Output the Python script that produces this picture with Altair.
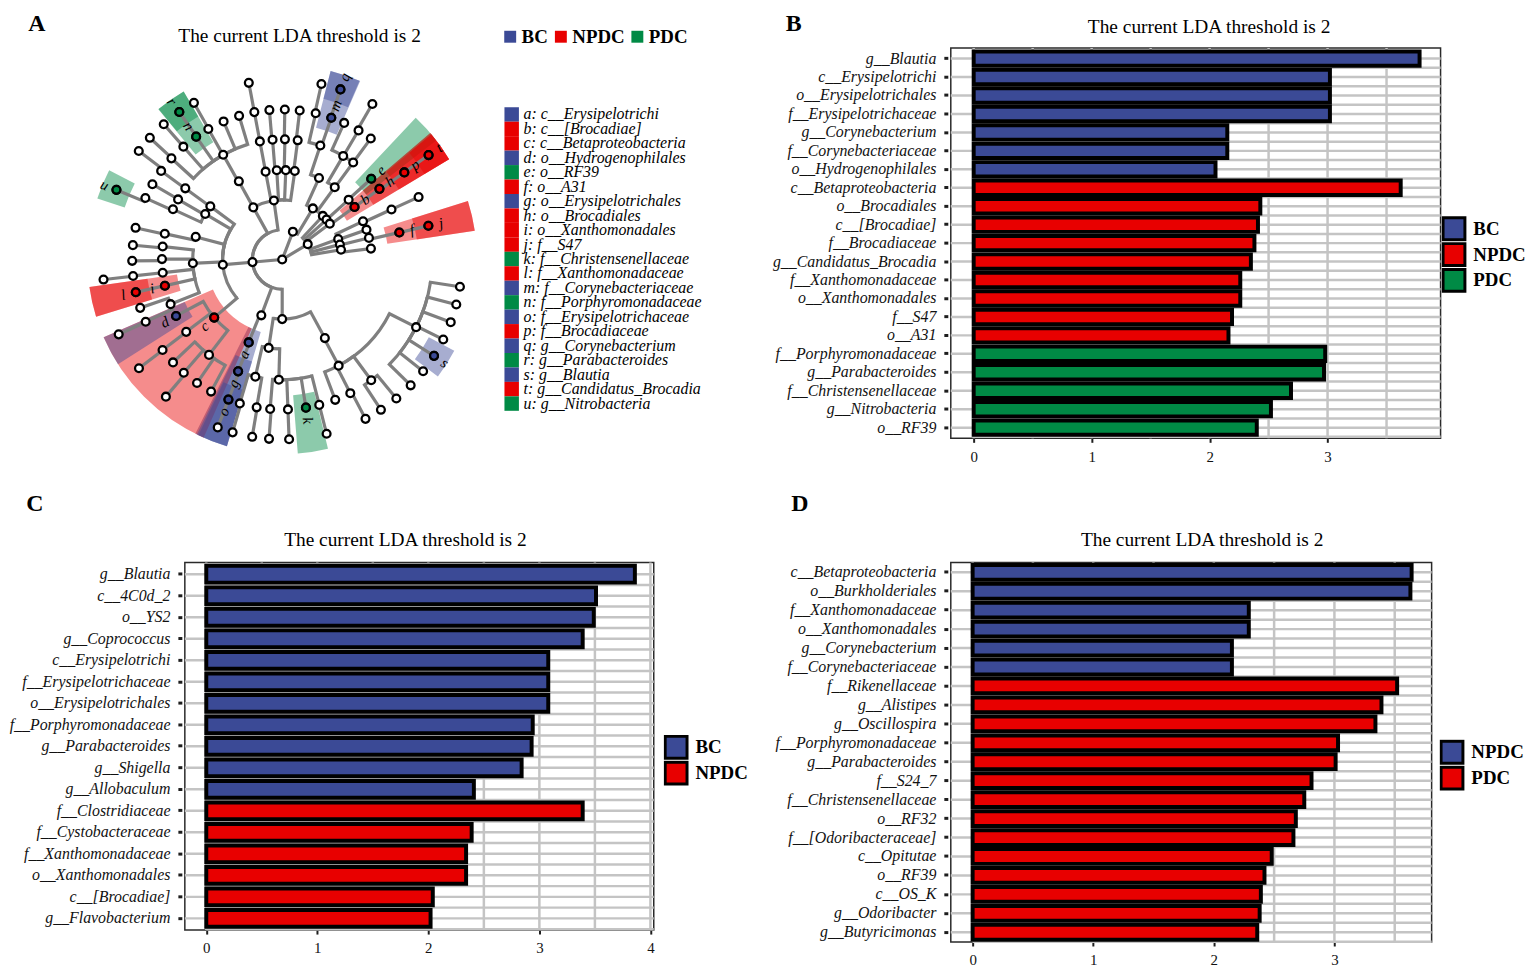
import altair as alt
import numpy as np
import pandas as pd

SERIF = "Liberation Serif"
BLUE, RED, GREEN = "#3b4a96", "#e80000", "#008a45"
GRID_GRAY = "#c4c4c4"
TREE_GRAY = "#7f7f7f"
TITLE_TEXT = "The current LDA threshold is 2"

# ---------------- Panel B data ----------------
B_LABELS = ["g__Blautia", "c__Erysipelotrichi", "o__Erysipelotrichales", "f__Erysipelotrichaceae",
            "g__Corynebacterium", "f__Corynebacteriaceae", "o__Hydrogenophilales",
            "c__Betaproteobacteria", "o__Brocadiales", "c__[Brocadiae]", "f__Brocadiaceae",
            "g__Candidatus_Brocadia", "f__Xanthomonadaceae", "o__Xanthomonadales", "f__S47", "o__A31",
            "f__Porphyromonadaceae", "g__Parabacteroides", "f__Christensenellaceae",
            "g__Nitrobacteria", "o__RF39"]
B_VALUES = [3.78, 3.02, 3.02, 3.02, 2.15, 2.15, 2.05,
            3.62, 2.43, 2.41, 2.38, 2.35, 2.26, 2.26, 2.19, 2.16,
            2.98, 2.97, 2.69, 2.52, 2.40]
B_GROUPS = ["BC"] * 7 + ["NPDC"] * 9 + ["PDC"] * 5
B_GROUP_ORDER = ["BC", "NPDC", "PDC"]

# ---------------- Panel C data ----------------
C_LABELS = ["g__Blautia", "c__4C0d_2", "o__YS2", "g__Coprococcus", "c__Erysipelotrichi",
            "f__Erysipelotrichaceae", "o__Erysipelotrichales", "f__Porphyromonadaceae",
            "g__Parabacteroides", "g__Shigella", "g__Allobaculum", "f__Clostridiaceae",
            "f__Cystobacteraceae", "f__Xanthomonadaceae", "o__Xanthomonadales", "c__[Brocadiae]",
            "g__Flavobacterium"]
C_VALUES = [3.86, 3.51, 3.49, 3.39, 3.08, 3.08, 3.08, 2.94, 2.93, 2.84, 2.41,
            3.39, 2.39, 2.34, 2.34, 2.04, 2.02]
C_GROUPS = ["BC"] * 11 + ["NPDC"] * 6
C_GROUP_ORDER = ["BC", "NPDC"]

# ---------------- Panel D data ----------------
D_LABELS = ["c__Betaproteobacteria", "o__Burkholderiales", "f__Xanthomonadaceae", "o__Xanthomonadales",
            "g__Corynebacterium", "f__Corynebacteriaceae", "f__Rikenellaceae", "g__Alistipes",
            "g__Oscillospira", "f__Porphyromonadaceae", "g__Parabacteroides", "f__S24_7",
            "f__Christensenellaceae", "o__RF32", "f__[Odoribacteraceae]", "c__Opitutae", "o__RF39",
            "c__OS_K", "g__Odoribacter", "g__Butyricimonas"]
D_VALUES = [3.64, 3.63, 2.29, 2.29, 2.15, 2.15, 3.52, 3.39, 3.34, 3.03, 3.01, 2.81,
            2.75, 2.68, 2.66, 2.48, 2.42, 2.39, 2.38, 2.36]
D_GROUPS = ["NPDC"] * 6 + ["PDC"] * 14
D_GROUP_ORDER = ["NPDC", "PDC"]

GRID_STEPS_B = [0, 0.5, 1, 1.5, 2, 2.5, 3, 3.5]
GRID_STEPS_C = [0, 0.5, 1, 1.5, 2, 2.5, 3, 3.5, 4]
GRID_STEPS_D = [0, 0.5, 1, 1.5, 2, 2.5, 3, 3.5]
TICKS_B = [0, 1, 2, 3]
TICKS_C = [0, 1, 2, 3, 4]
TICKS_D = [0, 1, 2, 3]

# ---------------- Panel A data (cladogram) ----------------
GROUPS_A = ["BC", "NPDC", "PDC"]
RADII = [0, 30, 60, 90, 121, 151, 181]
# (node, parent, angle in degrees clockwise from 12 o'clock, level)
CLADE_NODES = [
    ("root", "", 0, 0),
    ("K1", "root", 265, 1), ("K2", "root", 21, 1), ("K3", "root", 59, 1),
    ("P_act", "K2", 31, 2), ("C_act", "P_act", 24.3, 3), ("O_act", "C_act", 18.5, 4),
    ("F_act", "O_act", 12.9, 5), ("G_act", "F_act", 12.6, 6), ("m", "O_act", 19.1, 5), ("q", "m", 18.9, 6),
    ("P1", "K3", 43, 2), ("C1", "P1", 36, 3), ("O1", "C1", 30.5, 4), ("F1", "O1", 24.4, 5),
    ("O2", "C1", 36.2, 4), ("F2", "O2", 30.6, 5), ("G2", "F2", 30.1, 6), ("F3", "O2", 36.2, 5),
    ("P2", "K3", 48, 2), ("C2", "P2", 48, 3), ("e", "C2", 47.8, 4),
    ("P3", "K3", 53, 2), ("b", "P3", 54, 3), ("h", "b", 54, 4), ("p", "h", 54.5, 5), ("t", "p", 54.5, 6),
    ("P4", "K3", 70, 2), ("C4", "P4", 64.7, 3), ("O4", "C4", 65.4, 4), ("F4", "O4", 65.4, 5),
    ("P5", "K3", 75.4, 2), ("C5", "P5", 70.5, 3), ("C6", "P5", 76, 3), ("f", "C6", 77, 4), ("j", "f", 77, 5),
    ("P6", "K3", 80.6, 2), ("C7", "P6", 83, 3),
    ("PL2", "K1", 180, 2), ("CB", "PL2", 188.7, 3), ("OB1", "CB", 181.6, 4),
    ("FB0", "OB1", 165.7, 5), ("GB0", "FB0", 165.7, 6), ("k", "OB1", 170.9, 5),
    ("FB2", "OB1", 177.8, 5), ("GB2", "FB2", 177.8, 6), ("FB3", "OB1", 184.6, 5), ("GB3", "FB3", 184.2, 6),
    ("OB2", "CB", 192.9, 4), ("FB4", "OB2", 189.8, 5), ("GB4", "FB4", 189.6, 6),
    ("FB5", "OB2", 196.4, 5), ("GB5", "FB5", 196, 6),
    ("CL1", "PL2", 151.5, 3), ("OL1", "CL1", 152, 4), ("FL1", "OL1", 116.8, 5),
    ("GL1", "FL1", 98.7, 6), ("GL2", "FL1", 104.5, 6), ("GL3", "FL1", 110.4, 6), ("GL4", "FL1", 116.4, 6),
    ("s", "FL1", 122.4, 6), ("GL6", "FL1", 128.4, 6), ("GL7", "FL1", 134.4, 6),
    ("FL2", "OL1", 143.6, 5), ("GL8", "FL2", 140.6, 6), ("GL9", "FL2", 146.7, 6),
    ("FL3", "OL1", 153, 5), ("GL10", "FL3", 152.4, 6), ("FL4", "OL1", 159.3, 5),
    ("PL4", "K1", 200.5, 2), ("a", "PL4", 202, 3), ("g", "a", 201.5, 4), ("o", "g", 201, 5), ("GA", "o", 201, 6),
    ("PL3", "K1", 265, 2), ("c", "PL3", 229.5, 3), ("Oc2", "c", 217.5, 4),
    ("Fc5", "Oc2", 208.3, 5), ("Fc4", "Oc2", 214.6, 5), ("Fc3", "Oc2", 221, 5), ("Gc3", "Fc3", 220.3, 6),
    ("Fc2", "Oc2", 226.7, 5), ("Oc1", "c", 233, 4), ("Fc1", "Oc1", 232.9, 5), ("Gc1", "Fc1", 232.8, 6),
    ("d", "c", 242, 4),
    ("CLa", "PL3", 267.6, 3), ("Oa1", "CLa", 248.2, 4), ("Fa1", "Oa1", 245.5, 5), ("Ga1", "Fa1", 245.4, 6),
    ("Fa2", "Oa1", 251.2, 5), ("i", "CLa", 257.4, 4), ("l", "i", 257.4, 5),
    ("Oa3", "CLa", 263.7, 4), ("Fa3", "Oa3", 263.7, 5), ("Ga3", "Fa3", 263.6, 6),
    ("Oa4", "CLa", 270.2, 4), ("Fa4", "Oa4", 269.5, 5), ("Oa5", "CLa", 276.2, 4), ("Fa5", "Oa5", 275.5, 5),
    ("CLb", "PL3", 284.7, 3), ("Ob", "CLb", 282.4, 4), ("Fb", "Ob", 282.2, 5),
    ("CLc", "PL3", 300.6, 3), ("Oc_1", "CLc", 294.7, 4), ("Fu", "Oc_1", 294.2, 5), ("u", "Fu", 292.8, 6),
    ("Oc_2", "CLc", 300, 4), ("Fc_2", "Oc_2", 300.1, 5),
    ("CLd", "PL3", 306.5, 3), ("Od", "CLd", 306.3, 4), ("Fd", "Od", 306.2, 5), ("Gd", "Fd", 307.1, 6),
    ("PL5", "K1", 331, 2), ("CU", "PL5", 331, 3), ("OU", "CU", 330.6, 4),
    ("FU1", "OU", 312.4, 5), ("GU1", "FU1", 312.6, 6), ("FU2", "OU", 318.8, 5), ("GU2", "FU2", 318.8, 6),
    ("n", "OU", 325, 5), ("r", "n", 325.1, 6), ("FU4", "OU", 330.5, 5), ("GU4", "FU4", 330.6, 6),
    ("FU5", "OU", 337, 5), ("FU6", "OU", 343.3, 5),
    ("CU2", "PL5", 349.3, 3), ("OU2", "CU2", 349.3, 4), ("FU7", "OU2", 349.3, 5), ("GU7", "FU7", 349.3, 6),
    ("PL6", "K1", 352, 2),
    ("CT1", "PL6", 356.5, 3), ("OT1", "CT1", 355.4, 4), ("FT1", "OT1", 355.1, 5),
    ("CT2", "PL6", 2.3, 3), ("OT2", "CT2", 1.3, 4), ("FT2", "OT2", 1.0, 5),
    ("CT3", "PL6", 8.1, 3), ("OT3", "CT3", 7.4, 4), ("FT3", "OT3", 6.7, 5),
]
BM_LETTERS = list("abcdefghijklmnopqrstu")
BM_NAMES = ["c__Erysipelotrichi", "c__[Brocadiae]", "c__Betaproteobacteria", "o__Hydrogenophilales",
            "o__RF39", "o__A31", "o__Erysipelotrichales", "o__Brocadiales", "o__Xanthomonadales",
            "f__S47", "f__Christensenellaceae", "f__Xanthomonadaceae", "f__Corynebacteriaceae",
            "f__Porphyromonadaceae", "f__Erysipelotrichaceae", "f__Brocadiaceae", "g__Corynebacterium",
            "g__Parabacteroides", "g__Blautia", "g__Candidatus_Brocadia", "g__Nitrobacteria"]
BM_GROUPS = ["BC", "NPDC", "NPDC", "BC", "PDC", "NPDC", "BC", "NPDC", "NPDC", "NPDC", "PDC",
             "NPDC", "BC", "PDC", "BC", "NPDC", "BC", "PDC", "BC", "NPDC", "PDC"]

COLOR_OF = {"BC": BLUE, "NPDC": RED, "PDC": GREEN}

# ---------------- Panel A construction ----------------
A_X0, A_Y0, A_W, A_H = 178, 44, 463, 398
CX, CY = 276, 257
KEY_LIST_X, KEY_LIST_Y, KEY_LIST_STEP = 507, 111, 14.55

nodes = pd.DataFrame(CLADE_NODES, columns=["id", "parent", "a", "lvl"])
nodes["r"] = [RADII[v] for v in nodes["lvl"]]
angle_of = dict(zip(nodes["id"], nodes["a"]))
radius_of = dict(zip(nodes["id"], nodes["r"]))
children = {}
for nid, par in zip(nodes["id"], nodes["parent"]):
    children.setdefault(par, []).append(nid)

edges = nodes[nodes["parent"] != ""].copy()
edges["pa"] = edges["parent"].map(angle_of)
edges["pr"] = edges["parent"].map(radius_of)


def subtree_angles(nid):
    out = [angle_of[nid]]
    for ch in children.get(nid, []):
        out += subtree_angles(ch)
    return out


bm = pd.DataFrame({"letter": BM_LETTERS, "name": BM_NAMES, "group": BM_GROUPS})
bm["idx"] = range(len(bm))
bm["key"] = bm["letter"] + ": " + bm["name"]
bm["a"] = bm["letter"].map(angle_of)
bm["r"] = bm["letter"].map(radius_of)
bm["amin"] = [min(subtree_angles(x)) for x in BM_LETTERS]
bm["amax"] = [max(subtree_angles(x)) for x in BM_LETTERS]
KEYS = list(bm["key"])
KEY_COLORS = [COLOR_OF[g] for g in BM_GROUPS]
KEY_FILL = alt.Scale(domain=KEYS, range=KEY_COLORS)

XS = alt.Scale(domain=[A_X0, A_X0 + A_W], nice=False, zero=False)
YS = alt.Scale(domain=[A_Y0, A_Y0 + A_H], nice=False, zero=False, reverse=True)


def ax(field):
    return alt.X(field, type="quantitative", scale=XS, axis=None)


def ay(field):
    return alt.Y(field, type="quantitative", scale=YS, axis=None)


center_x = alt.XDatum(CX, type="quantitative", scale=XS, axis=None)
center_y = alt.YDatum(CY, type="quantitative", scale=YS, axis=None)


def polar_x(rexpr, aexpr):
    return f"{CX} + ({rexpr}) * sin(({aexpr}) * PI / 180)"


def polar_y(rexpr, aexpr):
    return f"{CY} - ({rexpr}) * cos(({aexpr}) * PI / 180)"


wedges = alt.Chart(bm).transform_calculate(
    t0="(datum.amin - 4.5) * PI / 180",
    t1="(datum.amax + 4.5) * PI / 180",
    rin="datum.r - 14",
    rout="196",
).mark_arc(fillOpacity=0.45).encode(
    x=center_x, y=center_y,
    theta=alt.Theta("t0:Q", scale=None, stack=None),
    theta2=alt.Theta2("t1:Q"),
    radius=alt.Radius("rout:Q", scale=None),
    radius2=alt.Radius2("rin:Q"),
    fill=alt.Fill("key:N", scale=KEY_FILL, legend=None),
)

tree_arcs = alt.Chart(edges).transform_calculate(
    da="((datum.a - datum.pa + 540) % 360) - 180",
).transform_filter(
    "datum.pr > 0 && abs(datum.da) > 0.05"
).transform_calculate(
    t0="min(datum.pa, datum.pa + datum.da) * PI / 180",
    t1="max(datum.pa, datum.pa + datum.da) * PI / 180",
    ro="datum.pr + 1.6",
    ri="datum.pr - 1.6",
).mark_arc(color=TREE_GRAY).encode(
    x=center_x, y=center_y,
    theta=alt.Theta("t0:Q", scale=None, stack=None),
    theta2=alt.Theta2("t1:Q"),
    radius=alt.Radius("ro:Q", scale=None),
    radius2=alt.Radius2("ri:Q"),
)

radial = alt.Chart(edges).transform_calculate(
    xa=polar_x("datum.pr", "datum.a"), ya=polar_y("datum.pr", "datum.a"),
    xb=polar_x("datum.r", "datum.a"), yb=polar_y("datum.r", "datum.a"),
).mark_rule(color=TREE_GRAY, strokeWidth=3.2, strokeCap="square").encode(
    x=ax("xa"), y=ay("ya"), x2=alt.X2("xb:Q"), y2=alt.Y2("yb:Q"),
)

plain_nodes = alt.Chart(nodes).transform_calculate(
    px=polar_x("datum.r", "datum.a"), py=polar_y("datum.r", "datum.a"),
).mark_point(shape="circle", filled=True, fill="white", stroke="black", strokeWidth=2.3,
             size=62, opacity=1).encode(x=ax("px"), y=ay("py"))

marker_nodes = alt.Chart(bm).transform_calculate(
    px=polar_x("datum.r", "datum.a"), py=polar_y("datum.r", "datum.a"),
).mark_point(shape="circle", filled=True, stroke="black", strokeWidth=2.3, size=62, opacity=1).encode(
    x=ax("px"), y=ay("py"),
    color=alt.Color("group:N", scale=alt.Scale(domain=GROUPS_A, range=[BLUE, RED, GREEN]),
                    legend=alt.Legend(title=None, orient="none", legendX=318, legendY=-21,
                                      direction="horizontal", symbolType="square", symbolSize=144,
                                      symbolStrokeWidth=0, symbolOpacity=1, labelFont=SERIF,
                                      labelFontWeight="bold", labelFontSize=19, labelColor="black",
                                      labelOffset=2, columnPadding=3)),
)

marker_labels = alt.Chart(bm).transform_calculate(
    lx=polar_x("datum.r + 13", "datum.a"), ly=polar_y("datum.r + 13", "datum.a"),
    rot="(((datum.a < 180 ? datum.a - 90 : datum.a - 270) % 360) + 360) % 360",
).mark_text(font=SERIF, fontStyle="italic", fontSize=15, color="black",
            align="center", baseline="middle").encode(
    x=ax("lx"), y=ay("ly"), text="letter:N", angle=alt.Angle("rot:Q", scale=None),
)

# key list (letter -> taxon) beside the cladogram
key_squares = alt.Chart(bm).transform_calculate(
    kx=f"{KEY_LIST_X}", ky=f"{KEY_LIST_Y} + datum.idx * {KEY_LIST_STEP}",
).mark_square(size=212, opacity=1, strokeWidth=0).encode(
    x=ax("kx"), y=ay("ky"), fill=alt.Fill("key:N", scale=KEY_FILL, legend=None),
)
key_texts = alt.Chart(bm).transform_calculate(
    kx=f"{KEY_LIST_X} + 12", ky=f"{KEY_LIST_Y} + datum.idx * {KEY_LIST_STEP}",
).mark_text(font=SERIF, fontStyle="italic", fontSize=16, color="black", align="left",
            baseline="middle").encode(x=ax("kx"), y=ay("ky"), text="key:N")


def text_layer(txt, x, y, size, weight):
    return alt.Chart(pd.DataFrame({"t": [txt]})).mark_text(
        font=SERIF, fontSize=size, fontWeight=weight, color="black",
        align="center", baseline="middle").encode(text="t:N", x=alt.value(x), y=alt.value(y))


panel_a = alt.layer(
    wedges, tree_arcs, radial, plain_nodes, marker_nodes, marker_labels, key_squares, key_texts,
    text_layer(TITLE_TEXT, 115.5, -12, 19.5, "normal"),
    text_layer("A", -149, -24, 24, "bold"),
    text_layer("B", 613, -24, 24, "bold"),
    text_layer("C", -151, 459, 24, "bold"),
    text_layer("D", 619, 459, 24, "bold"),
).properties(width=A_W, height=A_H, view=alt.ViewBackground(stroke="transparent"))


# ---------------- Bar panels ----------------
def bar_panel(labels, values, groups, group_order, colors, width, height, xdom, grid_steps, ticks,
              pad_outer, title_dx, title_offset, legend_x, legend_y):
    n = len(labels)
    step = height / (n - 0.22 + 2 * pad_outer)
    df = pd.DataFrame({"label": labels, "value": values, "group": groups})
    grid_df = pd.DataFrame({"gx": grid_steps})
    ys = alt.Scale(domain=labels, paddingInner=0.22, paddingOuter=pad_outer)
    xs = alt.Scale(domain=xdom, nice=False, zero=False)
    yaxis = alt.Axis(title=None, domain=False, grid=False, offset=3, ticks=True, tickSize=4,
                     tickWidth=3, tickColor="#1e1e1e", labelPadding=8, labelFont=SERIF,
                     labelFontStyle="italic", labelFontSize=16, labelColor="#111111", labelLimit=400)
    xaxis = alt.Axis(title=None, domain=False, grid=False, values=ticks, format="d", tickSize=4,
                     tickWidth=2, tickColor="#1e1e1e", labelPadding=7, labelFont=SERIF,
                     labelFontSize=15, labelColor="#111111")
    Y = alt.Y("label:N", scale=ys, axis=yaxis)
    center_lines = alt.Chart(df).mark_rule(color=GRID_GRAY, strokeWidth=2.5).encode(y=Y)
    half_lines = alt.Chart(df).mark_rule(color=GRID_GRAY, strokeWidth=2.5, yOffset=step / 2).encode(
        y=Y, x=alt.XDatum(0, type="quantitative", scale=xs, axis=xaxis), x2=alt.datum(xdom[1]))
    vlines = alt.Chart(grid_df).mark_rule(color=GRID_GRAY, strokeWidth=2.5).encode(
        x=alt.X("gx:Q", scale=xs, axis=xaxis))
    bars = alt.Chart(df).mark_bar(stroke="black", strokeWidth=4).encode(
        x=alt.X("value:Q", scale=xs, axis=xaxis), x2=alt.datum(0), y=Y,
        color=alt.Color("group:N", scale=alt.Scale(domain=group_order, range=colors),
                        legend=alt.Legend(title=None, orient="none", legendX=legend_x, legendY=legend_y,
                                          symbolType="square", symbolSize=484, symbolStrokeColor="black",
                                          symbolStrokeWidth=3, symbolOpacity=1, labelFont=SERIF,
                                          labelFontWeight="bold", labelFontSize=19, labelColor="black",
                                          labelOffset=7, rowPadding=0, clipHeight=26)),
    )
    return alt.layer(center_lines, half_lines, vlines, bars).properties(
        width=width, height=height,
        title=alt.TitleParams(TITLE_TEXT, font=SERIF, fontSize=19.5, fontWeight="normal", color="black",
                              anchor="middle", frame="group", dx=title_dx, offset=title_offset),
        view=alt.ViewBackground(stroke="#2a2a2a", strokeWidth=1.5),
    )


panel_b = bar_panel(B_LABELS, B_VALUES, B_GROUPS, B_GROUP_ORDER, [BLUE, RED, GREEN], 493, 393,
                    [-0.194, 3.958], GRID_STEPS_B, TICKS_B, 0.19, 13.5, 9, 494, 169)
panel_c = bar_panel(C_LABELS, C_VALUES, C_GROUPS, C_GROUP_ORDER, [BLUE, RED], 472, 370,
                    [-0.193, 4.03], GRID_STEPS_C, TICKS_C, 0.155, -14, 11, 482, 173)
panel_d = bar_panel(D_LABELS, D_VALUES, D_GROUPS, D_GROUP_ORDER, [BLUE, RED], 484, 382,
                    [-0.181, 3.806], GRID_STEPS_D, TICKS_D, 0.125, 11, 11, 492, 178)

chart = alt.concat(
    panel_a, panel_b, panel_c, panel_d, columns=2,
    spacing={"row": 120, "column": 299}, bounds="flush", align="none",
).resolve_scale(
    x="independent", y="independent", color="independent", fill="independent"
).resolve_legend(color="independent", fill="independent").properties(padding=0, background="white")

chart.save("out.html", embed_options={"renderer": "svg", "actions": False})
